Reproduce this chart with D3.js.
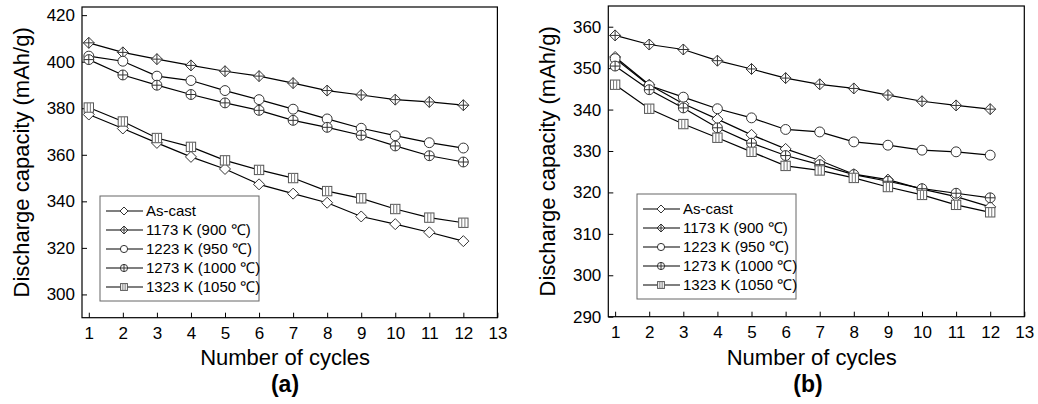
<!DOCTYPE html>
<html>
<head>
<meta charset="utf-8">
<script src="https://cdn.jsdelivr.net/npm/d3@7"></script>
<style>
  body { margin: 0; background: #fff; }
  svg { display: block; font-family: "Liberation Sans", Arial, sans-serif; }
</style>
</head>
<body>
<div id="chart"></div>
<script>
// ---- data ----
const cycles = [1, 2, 3, 4, 5, 6, 7, 8, 9, 10, 11, 12];
const seriesNames = ["As-cast", "1173 K (900 \u2103)", "1223 K (950 \u2103)", "1273 K (1000 \u2103)", "1323 K (1050 \u2103)"];
const markerTypes = ["diamond", "diamondPlus", "circle", "circlePlus", "squareBars"];

// panel (a)
const aAsCast = [377.3, 371.3, 365.1, 359.1, 353.9, 347.3, 343.3, 339.4, 333.5, 330.2, 326.7, 322.9];
const a1173 = [408.1, 404.0, 401.1, 398.4, 395.9, 393.8, 390.8, 387.6, 385.7, 383.7, 382.7, 381.3];
const a1223 = [402.4, 400.2, 393.8, 391.9, 387.6, 383.7, 379.6, 375.4, 371.4, 368.2, 365.2, 362.9];
const a1273 = [400.9, 394.3, 389.9, 385.9, 382.3, 379.1, 374.8, 371.8, 368.4, 363.8, 359.6, 356.9];
const a1323 = [380.3, 374.3, 367.2, 363.4, 357.6, 353.5, 350.0, 344.4, 341.3, 336.7, 333.0, 330.8];

// panel (b)
const bAsCast = [352.7, 346.0, 341.4, 337.7, 333.9, 330.5, 327.7, 324.4, 323.1, 320.8, 319.0, 316.5];
const b1173 = [357.9, 355.7, 354.5, 351.8, 349.8, 347.6, 346.1, 345.1, 343.5, 342.0, 341.0, 340.1];
const b1223 = [352.3, 345.8, 343.0, 340.2, 338.0, 335.2, 334.6, 332.2, 331.4, 330.2, 329.8, 329.0];
const b1273 = [350.5, 344.8, 340.4, 335.6, 331.9, 328.9, 326.7, 324.3, 322.7, 320.9, 319.8, 318.7];
const b1323 = [346.0, 340.2, 336.5, 333.2, 329.8, 326.4, 325.3, 323.5, 321.3, 319.4, 317.0, 315.2];

const xTicks = [1, 2, 3, 4, 5, 6, 7, 8, 9, 10, 11, 12, 13];
const yTicksA = [300, 320, 340, 360, 380, 400, 420];
const yTicksB = [290, 300, 310, 320, 330, 340, 350, 360];

const svg = d3.select("#chart").append("svg")
  .attr("width", 1038)
  .attr("height", 404);

// draws one marker centred on 0,0 inside g
function drawMarker(g, type, r) {
  const st = "#333";
  if (type === "diamond" || type === "diamondPlus") {
    g.append("path")
      .attr("d", `M0,${-r}L${r},0L0,${r}L${-r},0Z`)
      .attr("fill", "#fff").attr("stroke", st);
    if (type === "diamondPlus")
      g.append("path").attr("d", `M0,${-r}V${r}M${-r},0H${r}`).attr("stroke", st);
  } else if (type === "circle" || type === "circlePlus") {
    g.append("circle").attr("r", r * 0.9).attr("fill", "#fff").attr("stroke", st);
    if (type === "circlePlus")
      g.append("path").attr("d", `M0,${-r * 0.9}V${r * 0.9}M${-r * 0.9},0H${r * 0.9}`).attr("stroke", st);
  } else {
    const s = r * 0.85;
    g.append("rect").attr("x", -s).attr("y", -s).attr("width", 2 * s).attr("height", 2 * s)
      .attr("fill", "#fff").attr("stroke", "#555");
    g.append("path").attr("d", `M${-s / 3},${-s}V${s}M${s / 3},${-s}V${s}`).attr("stroke", "#777");
  }
}

function drawPanel(cfg) {
  const g = svg.append("g");
  const x = d3.scaleLinear().domain([0.8, 13]).range([cfg.left, cfg.right]);
  const y = d3.scaleLinear().domain(cfg.yDomain).range([cfg.bottom, cfg.top]);

  // x axis, ticks pointing inward
  const xa = g.append("g")
    .attr("transform", `translate(0,${cfg.bottom})`)
    .call(d3.axisBottom(x).tickValues(xTicks).tickSizeInner(-5).tickSizeOuter(0).tickPadding(9));
  const ya = g.append("g")
    .attr("transform", `translate(${cfg.left},0)`)
    .call(d3.axisLeft(y).tickValues(cfg.yTicks).tickSizeInner(-5).tickSizeOuter(0).tickPadding(7));
  [xa, ya].forEach(a => {
    a.select(".domain").remove();
    a.selectAll(".tick line").attr("stroke", "#000");
    a.selectAll(".tick text").attr("font-size", 17).attr("font-family", null).attr("fill", "#000");
    a.attr("font-family", null);
  });

  // frame
  g.append("rect")
    .attr("x", cfg.left).attr("y", cfg.top)
    .attr("width", cfg.right - cfg.left).attr("height", cfg.bottom - cfg.top)
    .attr("fill", "none").attr("stroke", "#000").attr("stroke-width", 1.2);

  const line = d3.line().x((d, i) => x(cycles[i])).y(d => y(d));

  cfg.series.forEach((vals, k) => {
    g.append("path").datum(vals)
      .attr("d", line)
      .attr("fill", "none").attr("stroke", "#000").attr("stroke-width", 1.2);
  });
  cfg.series.forEach((vals, k) => {
    vals.forEach((v, i) => {
      const m = g.append("g").attr("transform", `translate(${x(cycles[i])},${y(v)})`);
      drawMarker(m, markerTypes[k], 5.5);
    });
  });

  // legend
  const lg = g.append("g").attr("transform", `translate(${cfg.legX},${cfg.legY})`);
  lg.append("rect").attr("width", 159).attr("height", 105)
    .attr("fill", "#fff").attr("stroke", "#666");
  seriesNames.forEach((name, k) => {
    const row = lg.append("g").attr("transform", `translate(0,${15 + k * 19})`);
    row.append("line").attr("x1", 6).attr("x2", 43).attr("stroke", "#000").attr("stroke-width", 1.2);
    drawMarker(row.append("g").attr("transform", "translate(24,0)"), markerTypes[k], 4);
    row.append("text").attr("x", 46).attr("dy", "0.35em")
      .attr("font-size", 15).text(name);
  });

  // axis titles
  g.append("text")
    .attr("transform", "rotate(-90)")
    .attr("x", -(cfg.top + cfg.bottom) / 2)
    .attr("y", cfg.left - 53)
    .attr("text-anchor", "middle")
    .attr("font-size", 22)
    .text("Discharge capacity (mAh/g)");
  g.append("text")
    .attr("x", (x(1) + x(13)) / 2 - 8)
    .attr("y", 365)
    .attr("text-anchor", "middle")
    .attr("font-size", 22)
    .text("Number of cycles");
  g.append("text")
    .attr("x", cfg.labelX)
    .attr("y", 392)
    .attr("text-anchor", "middle")
    .attr("font-size", 23)
    .attr("font-weight", "bold")
    .text(cfg.label);
}

drawPanel({
  left: 82, right: 497.4, top: 7, bottom: 317.7,
  yDomain: [290, 423.5], yTicks: yTicksA,
  series: [aAsCast, a1173, a1223, a1273, a1323],
  legX: 100, legY: 196, label: "(a)", labelX: 285
});
drawPanel({
  left: 608.3, right: 1024.3, top: 6, bottom: 316.7,
  yDomain: [290, 365], yTicks: yTicksB,
  series: [bAsCast, b1173, b1223, b1273, b1323],
  legX: 637, legY: 194, label: "(b)", labelX: 808
});
</script>
</body>
</html>
